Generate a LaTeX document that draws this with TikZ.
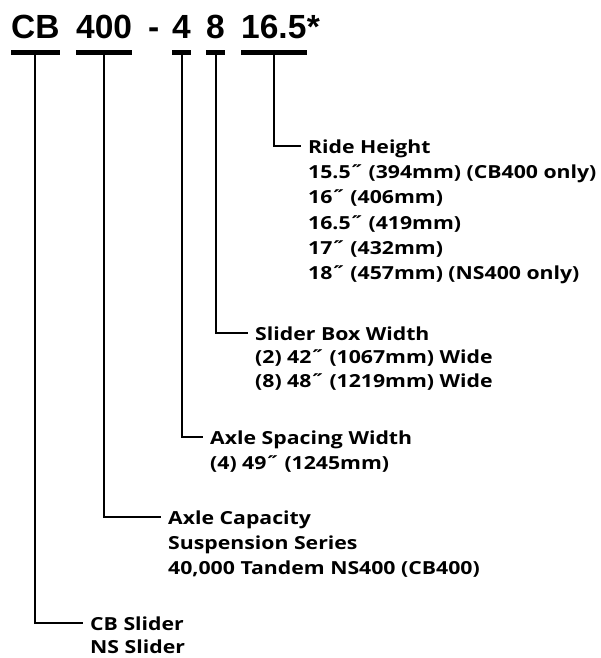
\documentclass[tikz,border=0pt]{standalone}
\usepackage{fontspec}
\setmainfont{Open Sans}[FakeStretch=1.18]
\newfontfamily\codefont{Liberation Sans}
\usetikzlibrary{positioning}
\newcommand{\rows}[1]{\begin{tabular}[t]{@{}l@{}}#1\end{tabular}}

\begin{document}
\begin{tikzpicture}[
        x=1pt, y=-1pt,
        code/.style={inner sep=0pt, anchor=base west, font=\codefont\fontsize{33.5}{33.5}\selectfont\bfseries},
        item/.style={inner sep=0pt, anchor=base west, text depth=0pt, font=\fontsize{18}{25.4}\selectfont\bfseries},
        tight/.style={font=\fontsize{18}{23.5}\selectfont\bfseries},
        bar/.style={draw, line width=5pt},
        lead/.style={draw, line width=2pt, line join=miter}
    ]
    \useasboundingbox (0,0) rectangle (601,658);
    % model number, one node per field
    \node [code] (series) at (11,39) {CB};
    \node [code] (capacity) at (76,39) {400};
    \node [code] (dash) at (148,39) {-};
    \node [code] (spacing) at (172,39) {4};
    \node [code] (boxwidth) at (206,39) {8};
    \node [code] (height) at (241,39) {16.5};
    \node [code, right=0pt of height.base east, anchor=base west] (star) {*};
    % field descriptions
    \node [item] (ride) at (308,153) {\rows{Ride Height\\15.5˝ (394mm) (CB400 only)\\16˝ (406mm)\\16.5˝ (419mm)\\17˝ (432mm)\\18˝ (457mm) (NS400 only)}};
    \node [item, tight] (box) at (255,340) {\rows{Slider Box Width\\(2) 42˝ (1067mm) Wide\\(8) 48˝ (1219mm) Wide}};
    \node [item] (axle) at (210,444) {\rows{Axle Spacing Width\\(4) 49˝ (1245mm)}};
    \node [item] (cap) at (168,524) {\rows{Axle Capacity\\Suspension Series\\40,000 Tandem NS400 (CB400)}};
    \node [item, tight] (slider) at (90,630) {\rows{CB Slider\\NS Slider}};
    % underlines
    \foreach \f in {series,capacity,spacing,boxwidth,height}
        \path [bar] ([yshift=-13.5pt]\f.base west) -- ([yshift=-13.5pt]\f.base east);
    % leaders
    \path [lead] ([yshift=-15pt]height.base) |- ([xshift=-7pt,yshift=7pt]ride.base west);
    \path [lead] ([yshift=-15pt]boxwidth.base) |- ([xshift=-7pt,yshift=7pt]box.base west);
    \path [lead] ([yshift=-15pt]spacing.base) |- ([xshift=-7pt,yshift=7pt]axle.base west);
    \path [lead] ([yshift=-15pt]capacity.base) |- ([xshift=-7pt,yshift=7pt]cap.base west);
    \path [lead] ([yshift=-15pt]series.base) |- ([xshift=-7pt,yshift=7pt]slider.base west);
\end{tikzpicture}
\end{document}
